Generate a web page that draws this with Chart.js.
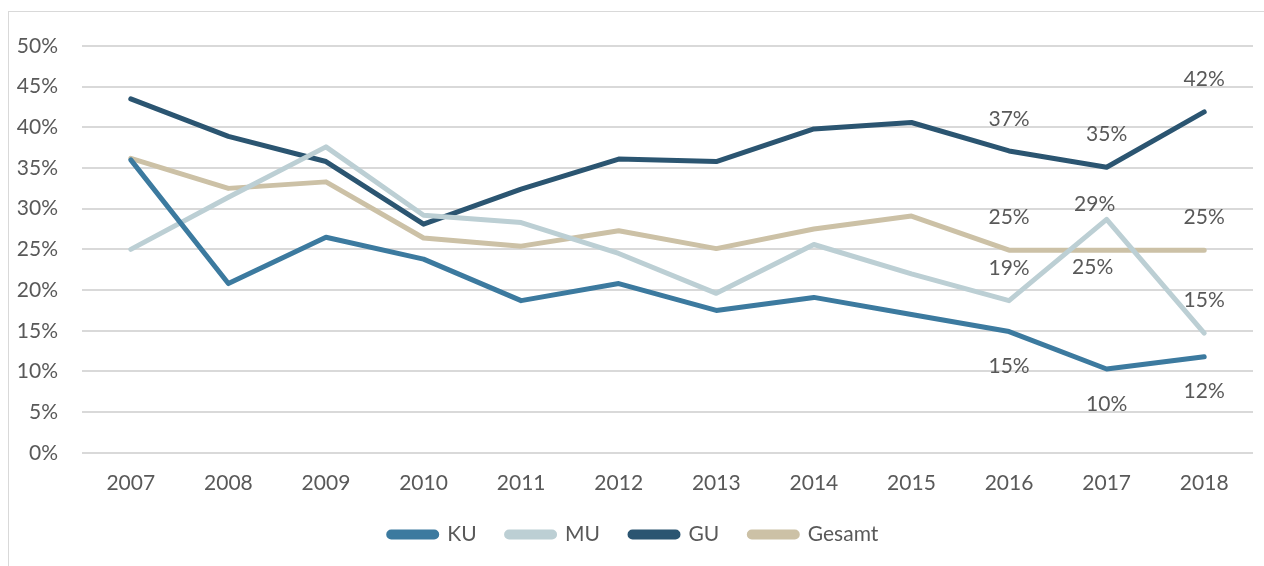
<!DOCTYPE html>
<html>
<head>
<meta charset="utf-8">
<script src="https://cdn.jsdelivr.net/npm/chart.js@4"></script>
<style>
	html, body { margin: 0; padding: 0; background: #fff; }
	.frame {
		position: absolute; left: 8px; top: 11px; width: 1270px; height: 570px;
		border: 1px solid #d9d9d9; box-sizing: border-box;
	}
	.container-canva { position: absolute; left: 0; top: 0; width: 1264px; height: 566px; }
</style>
</head>
<body>
<div class="frame"></div>
<div class="container-canva"><canvas id="myChart"></canvas></div>
<script>
const years = ["2007", "2008", "2009", "2010", "2011", "2012", "2013", "2014", "2015", "2016", "2017", "2018"];

const ku = [0.360, 0.208, 0.265, 0.238, 0.187, 0.208, 0.175, 0.191, 0.170, 0.149, 0.103, 0.118];
const mu = [0.250, 0.314, 0.376, 0.292, 0.283, 0.245, 0.196, 0.256, 0.220, 0.187, 0.287, 0.147];
const gu = [0.435, 0.389, 0.358, 0.281, 0.324, 0.361, 0.358, 0.398, 0.406, 0.371, 0.351, 0.419];
const gesamt = [0.362, 0.325, 0.333, 0.264, 0.254, 0.273, 0.251, 0.275, 0.291, 0.249, 0.249, 0.249];

// only the last three years carry a value label
const labelledYears = ["2016", "2017", "2018"];

const textColor = "#595959";
const fontFamily = "Lato, 'Open Sans', sans-serif";

const valueLabels = {
	id: "valueLabels",
	afterDatasetsDraw(chart) {
		const ctx = chart.ctx;
		ctx.save();
		ctx.font = "21px " + fontFamily;
		ctx.fillStyle = textColor;
		ctx.textAlign = "center";
		ctx.textBaseline = "middle";
		chart.data.datasets.forEach((ds, i) => {
			const meta = chart.getDatasetMeta(i);
			meta.data.forEach((pt, j) => {
				const year = chart.data.labels[j];
				const k = labelledYears.indexOf(year);
				if (k < 0) return;
				const place = ds.labelPlace[k];
				const txt = Math.round(ds.data[j] * 100) + "%";
				ctx.fillText(txt, pt.x + place[0], pt.y + place[1]);
			});
		});
		ctx.restore();
	},
};

const makeLine = (label, data, color, labelPlace) => ({
	label,
	data,
	borderColor: color,
	backgroundColor: color,
	borderWidth: 5,
	pointRadius: 0,
	pointHoverRadius: 0,
	tension: 0,
	borderCapStyle: "round",
	borderJoinStyle: "round",
	labelPlace,
});

new Chart(document.getElementById("myChart"), {
	type: "line",
	data: {
		labels: years,
		datasets: [
			makeLine("KU", ku, "#3c7a9f", [[0, 35], [0, 35], [0, 34]]),
			makeLine("MU", mu, "#bccfd4", [[0, -32], [-12, -15], [0, -33]]),
			makeLine("GU", gu, "#2b5571", [[0, -32], [0, -33], [0, -33]]),
			makeLine("Gesamt", gesamt, "#ccc1a6", [[0, -33], [-14, 17], [0, -33]]),
		],
	},
	options: {
		responsive: true,
		maintainAspectRatio: false,
		animation: false,
		layout: { padding: { left: 14, right: 11, top: 46, bottom: 11 } },
		plugins: {
			legend: {
				position: "bottom",
				labels: {
					color: textColor,
					font: { family: fontFamily, size: 21 },
					boxWidth: 48,
					boxHeight: 5,
					useBorderRadius: true,
					borderRadius: 2.5,
					padding: 30,
				},
			},
			tooltip: { enabled: false },
		},
		scales: {
			x: {
				offset: true,
				afterFit: (scale) => { scale.height = scale.height - 20; },
				grid: { display: false, drawTicks: false },
				border: { display: false },
				ticks: {
					color: textColor,
					font: { family: fontFamily, size: 21 },
					padding: 18,
					maxRotation: 0,
				},
			},
			y: {
				min: 0,
				max: 0.5,
				afterFit: (scale) => { scale.width = 68; },
				grid: { color: "#d9d9d9", lineWidth: 2, drawTicks: false },
				border: { display: false },
				ticks: {
					stepSize: 0.05,
					color: textColor,
					font: { family: fontFamily, size: 21 },
					padding: 24,
					callback: (v) => Math.round(v * 100) + "%",
				},
			},
		},
	},
	plugins: [valueLabels],
});
</script>
</body>
</html>
